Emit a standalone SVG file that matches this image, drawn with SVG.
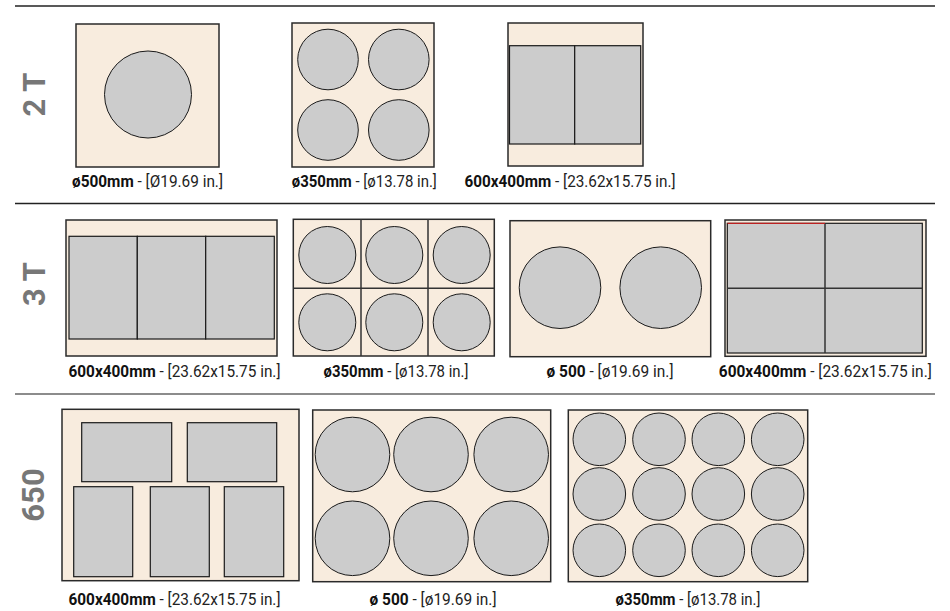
<svg xmlns="http://www.w3.org/2000/svg" width="950" height="611" viewBox="0 0 950 611">
<style>
.bg{fill:#fff}
.box{fill:#f8ecde;stroke:#2a2a2a;stroke-width:1.5}
.c{fill:#cccccc;stroke:#1a1a1a;stroke-width:1}
.r{fill:#cccccc;stroke:#1a1a1a;stroke-width:1.2}
.g{stroke:#333;stroke-width:1.5;fill:none}
.sep{stroke:#222;stroke-width:1.5}
.ttl{font-family:Roboto,"Liberation Sans",sans-serif;font-weight:bold;font-size:31px;fill:#777}
.lbl{font-family:Roboto,"Liberation Sans",sans-serif;font-size:16.5px;fill:#222;text-anchor:middle}
.lbl tspan.b{font-weight:bold;fill:#111}
</style>
<rect class="bg" width="950" height="611"/>
<g id="separators">
<line class="sep" x1="15" y1="6" x2="935" y2="6"/>
<line class="sep" x1="15" y1="203.5" x2="935" y2="203.5"/>
<line class="sep" x1="15" y1="394" x2="935" y2="394" style="stroke:#666"/>
</g>
<g id="titles">
<text class="ttl" transform="translate(45,94.5) rotate(-90)" text-anchor="middle">2 T</text>
<text class="ttl" transform="translate(45,284) rotate(-90)" text-anchor="middle">3 T</text>
<text class="ttl" transform="translate(43.5,495) rotate(-90)" text-anchor="middle">650</text>
</g>
<!-- Row 1 -->
<g id="r1a">
<rect class="box" x="76" y="24" width="143" height="143"/>
<circle class="c" cx="148" cy="94.5" r="43.5"/>
<text class="lbl" x="147.5" y="187" textLength="151" lengthAdjust="spacingAndGlyphs"><tspan class="b">ø500mm</tspan> - [Ø19.69 in.]</text>
</g>
<g id="r1b">
<rect class="box" x="292" y="23" width="142" height="144"/>
<circle class="c" cx="328" cy="59.5" r="30.3"/>
<circle class="c" cx="398.8" cy="59.5" r="30.3"/>
<circle class="c" cx="328" cy="130" r="30.3"/>
<circle class="c" cx="398.8" cy="130" r="30.3"/>
<text class="lbl" x="364.3" y="187" textLength="145" lengthAdjust="spacingAndGlyphs"><tspan class="b">ø350mm</tspan> - [ø13.78 in.]</text>
</g>
<g id="r1c">
<rect class="box" x="508" y="23" width="135" height="143"/>
<rect class="r" x="509.5" y="45.7" width="65.2" height="98.3"/>
<rect class="r" x="574.7" y="45.7" width="66" height="98.3"/>
<text class="lbl" x="570" y="187" textLength="211" lengthAdjust="spacingAndGlyphs"><tspan class="b">600x400mm</tspan> - [23.62x15.75 in.]</text>
</g>
<!-- Row 2 -->
<g id="r2a">
<rect class="box" x="66" y="220" width="211" height="136"/>
<rect class="r" x="69" y="236.3" width="68.3" height="102.7"/>
<rect class="r" x="137.3" y="236.3" width="68.4" height="102.7"/>
<rect class="r" x="205.7" y="236.3" width="68.6" height="102.7"/>
<text class="lbl" x="174.5" y="377" textLength="212" lengthAdjust="spacingAndGlyphs"><tspan class="b">600x400mm</tspan> - [23.62x15.75 in.]</text>
</g>
<g id="r2b">
<rect class="box" x="293.3" y="219.3" width="201" height="136.7"/>
<line class="g" x1="361" y1="219.3" x2="361" y2="356"/>
<line class="g" x1="428" y1="219.3" x2="428" y2="356"/>
<line class="g" x1="293.3" y1="288.3" x2="494.3" y2="288.3"/>
<circle class="c" cx="327.3" cy="255" r="28.5"/>
<circle class="c" cx="394.3" cy="255" r="28.5"/>
<circle class="c" cx="461.7" cy="255" r="28.5"/>
<circle class="c" cx="327.3" cy="322.3" r="28.5"/>
<circle class="c" cx="394.3" cy="322.3" r="28.5"/>
<circle class="c" cx="461.7" cy="322.3" r="28.5"/>
<text class="lbl" x="396" y="377" textLength="145" lengthAdjust="spacingAndGlyphs"><tspan class="b">ø350mm</tspan> - [ø13.78 in.]</text>
</g>
<g id="r2c">
<rect class="box" x="510" y="220.7" width="200.7" height="136"/>
<circle class="c" cx="560" cy="287.7" r="40.8"/>
<circle class="c" cx="660.7" cy="287.7" r="40.8"/>
<text class="lbl" x="610" y="377" textLength="127" lengthAdjust="spacingAndGlyphs"><tspan class="b">ø 500</tspan> - [ø19.69 in.]</text>
</g>
<g id="r2d">
<rect class="box" x="725" y="220" width="201" height="136.3"/>
<rect class="r" x="727.3" y="223.3" width="195" height="129.7"/>
<line class="g" x1="825" y1="223.3" x2="825" y2="353"/>
<line class="g" x1="727.3" y1="288.3" x2="922.3" y2="288.3"/>
<line x1="727.5" y1="223.3" x2="825" y2="223.3" stroke="#e02020" stroke-width="1"/>
<text class="lbl" x="825.3" y="377" textLength="213" lengthAdjust="spacingAndGlyphs"><tspan class="b">600x400mm</tspan> - [23.62x15.75 in.]</text>
</g>
<!-- Row 3 -->
<g id="r3a">
<rect class="box" x="62" y="409.3" width="237" height="171.4"/>
<rect class="r" x="81.7" y="422.7" width="90" height="59"/>
<rect class="r" x="187.3" y="422.7" width="89.4" height="59"/>
<rect class="r" x="73.7" y="486.7" width="59" height="90"/>
<rect class="r" x="150.3" y="486.7" width="59" height="90"/>
<rect class="r" x="224.3" y="486.7" width="59.4" height="90"/>
<text class="lbl" x="174.5" y="605" textLength="212" lengthAdjust="spacingAndGlyphs"><tspan class="b">600x400mm</tspan> - [23.62x15.75 in.]</text>
</g>
<g id="r3b">
<rect class="box" x="312.7" y="410" width="238" height="171.7"/>
<circle class="c" cx="352.5" cy="454.5" r="37.3"/>
<circle class="c" cx="431" cy="454.5" r="37.3"/>
<circle class="c" cx="511.2" cy="454.5" r="37.3"/>
<circle class="c" cx="352.5" cy="538.3" r="37.3"/>
<circle class="c" cx="431" cy="538.3" r="37.3"/>
<circle class="c" cx="511.2" cy="538.3" r="37.3"/>
<text class="lbl" x="433" y="605" textLength="127" lengthAdjust="spacingAndGlyphs"><tspan class="b">ø 500</tspan> - [ø19.69 in.]</text>
</g>
<g id="r3c">
<rect class="box" x="568.3" y="410" width="239.4" height="171.7"/>
<circle class="c" cx="599.3" cy="439.3" r="26.3"/>
<circle class="c" cx="659" cy="439.3" r="26.3"/>
<circle class="c" cx="718.3" cy="439.3" r="26.3"/>
<circle class="c" cx="777.7" cy="439.3" r="26.3"/>
<circle class="c" cx="599.3" cy="494" r="26.3"/>
<circle class="c" cx="659" cy="494" r="26.3"/>
<circle class="c" cx="718.3" cy="494" r="26.3"/>
<circle class="c" cx="777.7" cy="494" r="26.3"/>
<circle class="c" cx="599.3" cy="550.3" r="26.3"/>
<circle class="c" cx="659" cy="550.3" r="26.3"/>
<circle class="c" cx="718.3" cy="550.3" r="26.3"/>
<circle class="c" cx="777.7" cy="550.3" r="26.3"/>
<text class="lbl" x="688" y="605" textLength="145" lengthAdjust="spacingAndGlyphs"><tspan class="b">ø350mm</tspan> - [ø13.78 in.]</text>
</g>
</svg>
